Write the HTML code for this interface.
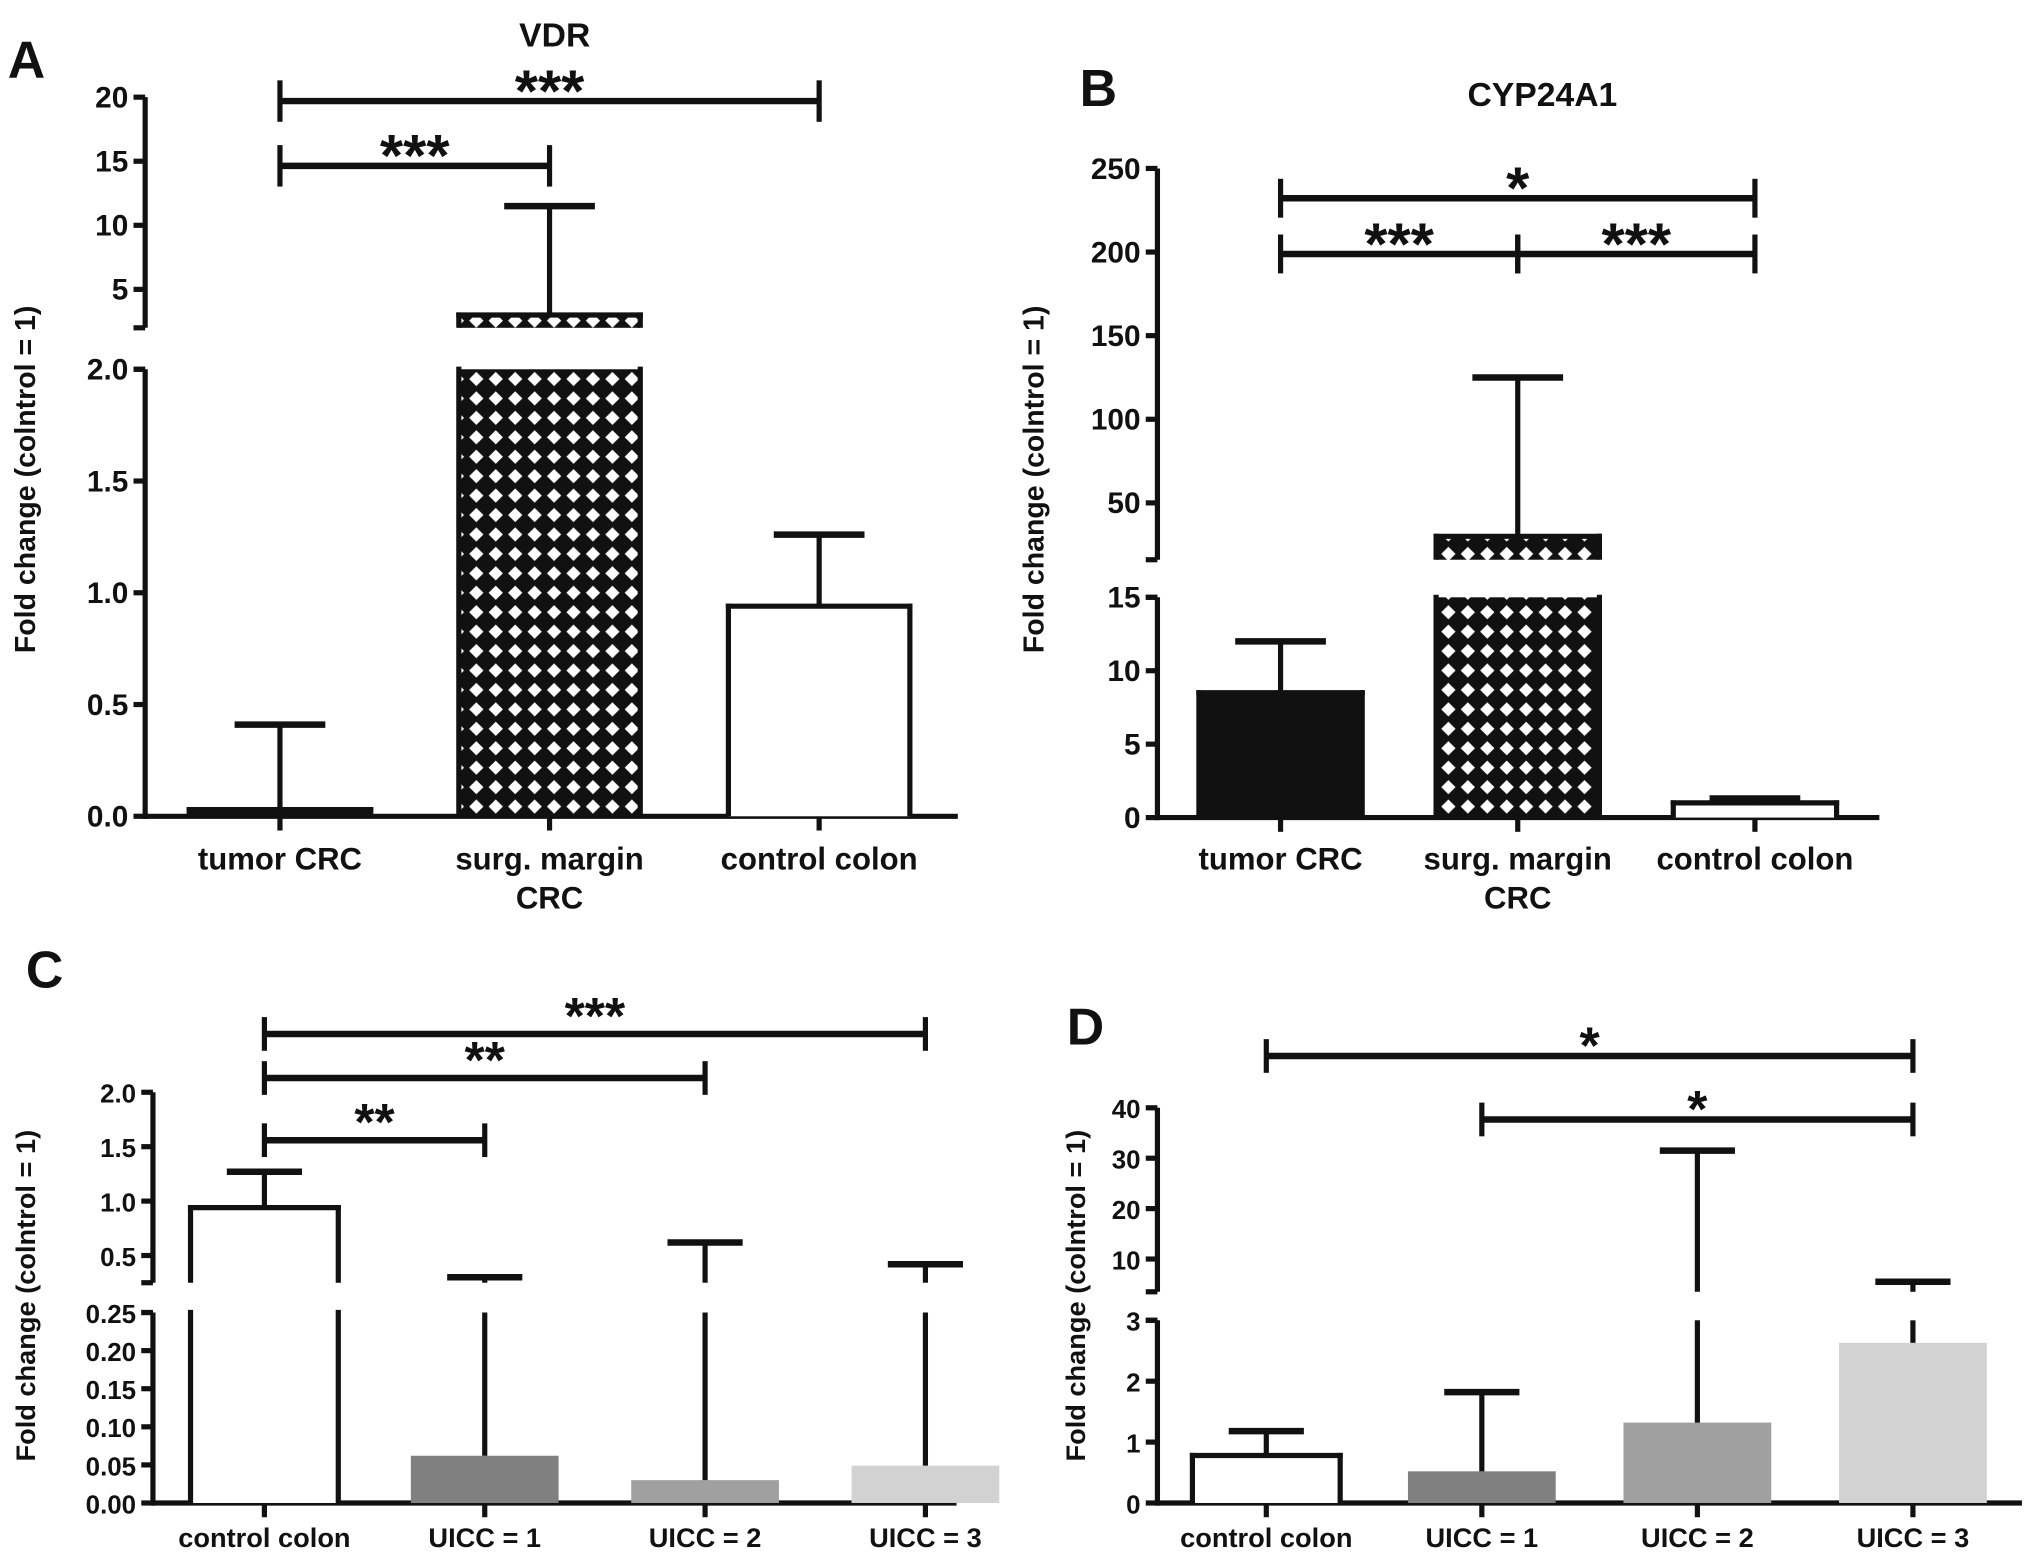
<!DOCTYPE html>
<html><head><meta charset="utf-8"><style>
html,body{margin:0;padding:0;background:#fff}
svg{display:block}
text{font-family:"Liberation Sans",Arial,sans-serif;font-weight:bold;fill:#111}
</style></head><body>
<svg id="fig" width="2031" height="1560" viewBox="0 0 1567 1204" preserveAspectRatio="none" xmlns="http://www.w3.org/2000/svg">
<defs>
<pattern id="hatch" patternUnits="userSpaceOnUse" width="15" height="15">
<rect width="15" height="15" fill="#111"/>
<polygon points="7.5,2 13,7.5 7.5,13 2,7.5" fill="#fff"/>
</pattern>
</defs>
</svg>
<script>
// ---------- data ----------
const catsA = ["tumor CRC", "surg. margin|CRC", "control colon"];
const valsA = [0.03, 3.0, 0.94];
const errA = [0.41, 11.5, 1.26];
const catsB = ["tumor CRC", "surg. margin|CRC", "control colon"];
const valsB = [8.5, 30, 1.0];
const errB = [12, 125, 1.3];
const catsC = ["control colon", "UICC = 1", "UICC = 2", "UICC = 3"];
const valsC = [0.94, 0.062, 0.03, 0.049];
const errC = [1.27, 0.30, 0.62, 0.42];
const catsD = ["control colon", "UICC = 1", "UICC = 2", "UICC = 3"];
const valsD = [0.78, 0.52, 1.32, 2.63];
const errD = [1.18, 1.82, 31.5, 5.5];
const ticksA_lo = ["0.0","0.5","1.0","1.5","2.0"], ticksA_hi = ["5","10","15","20"];
const ticksB_lo = ["0","5","10","15"], ticksB_hi = ["50","100","150","200","250"];
const ticksC_lo = ["0.00","0.05","0.10","0.15","0.20","0.25"], ticksC_hi = ["0.5","1.0","1.5","2.0"];
const ticksD_lo = ["0","1","2","3"], ticksD_hi = ["10","20","30","40"];
const sigA = [[0,2,"***"],[0,1,"***"]];
const sigB = [[0,2,"*"],[0,1,"***"],[1,2,"***"]];
const sigC = [[0,1,"**"],[0,2,"**"],[0,3,"***"]];
const sigD = [[0,3,"*"],[1,3,"*"]];

const svg = document.getElementById('fig');
const NS = "http://www.w3.org/2000/svg";
function mk(tag, attrs, parent){const e=document.createElementNS(NS,tag);for(const k in attrs)e.setAttribute(k,attrs[k]);(parent||svg).appendChild(e);return e;}
function txt(s,x,y,size,anchor,parent){const t=mk('text',{x:x,y:y,'font-size':size,'text-anchor':anchor||'middle'},parent);t.textContent=s;return t;}

function panel(cfg){
  const g = mk('g',{});
  
  
  const segs = cfg.segs;
  function yv(s,v){return s.y0 - (v - s.min)/(s.max - s.min)*(s.y0 - s.y1);}
  const lw = 4;
  segs.forEach((s,si)=>{
    const l = mk('line',{x1:cfg.ax,x2:cfg.ax,y1:s.y0+(si===0?lw/2:0),y2:s.y1,stroke:'#111','stroke-width':lw},g);
    
    
    if(si>0){ mk('line',{x1:cfg.ax-9,x2:cfg.ax,y1:s.y0,y2:s.y0,stroke:'#111','stroke-width':lw},g); }
    s.ticks.forEach(lbl=>{
      const v = parseFloat(lbl); const y = yv(s,v);
      mk('line',{x1:cfg.ax-9,x2:cfg.ax,y1:y,y2:y,stroke:'#111','stroke-width':lw},g);
      const t = txt(lbl,cfg.ax-13,y+8,cfg.fs,'end',g);
      
      
    });
    if(si===0 && segs.length>1){ mk('line',{x1:cfg.ax-9,x2:cfg.ax,y1:s.y1,y2:s.y1,stroke:'#111','stroke-width':lw},g); }
  });
  const xa = mk('line',{x1:cfg.ax-1,x2:cfg.xend,y1:segs[0].y0,y2:segs[0].y0,stroke:'#111','stroke-width':lw},g);
  
  
  cfg.cats.forEach((c,i)=>{
    const cx = cfg.cx0 + i*cfg.dx;
    mk('line',{x1:cx,x2:cx,y1:segs[0].y0,y2:segs[0].y0+11,stroke:'#111','stroke-width':lw},g);
    c.split('|').forEach((line,li)=>{
      const t = txt(line,cx,segs[0].y0+cfg.lblOff+li*30,cfg.xfs,'middle',g);
      
      
    });
    const v = cfg.vals[i], e = cfg.errs[i], fill = cfg.fills[i];
    const outline = (fill==='#fff'||fill==='url(#hatch)'||fill==='#111');
    const x0 = cx - cfg.bw/2, x1 = cx + cfg.bw/2;
    segs.forEach(s=>{
      const lo = Math.max(0,s.min), hi = Math.min(v,s.max);
      if(hi > lo){
        const yt = yv(s,hi), yb = yv(s,lo);
        const r = mk('rect',{x:x0,y:yt,width:cfg.bw,height:Math.max(0,yb-yt),fill:fill},g);
        
        
        if(outline){
          mk('line',{x1:x0,x2:x0,y1:yt-lw/2,y2:yb,stroke:'#111','stroke-width':lw},g);
          mk('line',{x1:x1,x2:x1,y1:yt-lw/2,y2:yb,stroke:'#111','stroke-width':lw},g);
          if(v<=s.max) mk('line',{x1:x0-lw/2,x2:x1+lw/2,y1:yt,y2:yt,stroke:'#111','stroke-width':lw},g);
        }
      }
      const elo = Math.max(v,s.min), ehi = Math.min(e,s.max);
      if(ehi > elo){
        const el = mk('line',{x1:cx,x2:cx,y1:yv(s,ehi),y2:yv(s,elo),stroke:'#111','stroke-width':lw},g);
        
        
      }
      if(e>=s.min && e<=s.max){
        const ye = yv(s,e);
        mk('line',{x1:cx-cfg.cap/2,x2:cx+cfg.cap/2,y1:ye,y2:ye,stroke:'#111','stroke-width':lw+1},g);
      }
    });
  });
  cfg.sig.forEach((sg,k)=>{
    const xa_ = cfg.cx0+sg[0]*cfg.dx, xb_ = cfg.cx0+sg[1]*cfg.dx, y = cfg.sigY[k];
    const bl = mk('line',{x1:xa_,x2:xb_,y1:y,y2:y,stroke:'#111','stroke-width':lw+1},g);
    
    
    mk('line',{x1:xa_,x2:xa_,y1:y-cfg.capH,y2:y+cfg.capH,stroke:'#111','stroke-width':lw},g);
    mk('line',{x1:xb_,x2:xb_,y1:y-cfg.capH,y2:y+cfg.capH,stroke:'#111','stroke-width':lw},g);
    const st = txt(sg[2],(xa_+xb_)/2,y+cfg.starOff,cfg.starFs,'middle',g);
    
    
  });
  const L = txt(cfg.letter,cfg.lx,cfg.ly,40,'start',g);
  
  
  if(cfg.title){ const T = txt(cfg.title,cfg.tx,cfg.ty,26,'middle',g);
    
     }
  const yl = txt('Fold change (colntrol = 1)',0,0,cfg.yfs,'middle',g);
  yl.setAttribute('transform','translate('+cfg.ylx+','+cfg.yly+') rotate(-90)');
  
  
}

panel({name:'panel-a',letter:'A',lx:6,ly:60,title:'VDR',tx:428,ty:36,ax:112,xend:739,
  segs:[{min:0,max:2,y0:630,y1:285,ticks:ticksA_lo},{min:2,max:20,y0:253,y1:75,ticks:ticksA_hi}],
  cats:catsA,vals:valsA,errs:errA,fills:['#111','url(#hatch)','#fff'],cx0:216,dx:208,bw:140,cap:70,
  sig:sigA,sigY:[78,128],capH:16,starOff:8,starFs:46,fs:23,xfs:24,lblOff:41,ylx:27,yly:370,yfs:22});
panel({name:'panel-b',letter:'B',lx:833,ly:82,title:'CYP24A1',tx:1190,ty:82,ax:893,xend:1450,
  segs:[{min:0,max:15,y0:631,y1:461,ticks:ticksB_lo},{min:16,max:250,y0:432,y1:130,ticks:ticksB_hi}],
  cats:catsB,vals:valsB,errs:errB,fills:['#111','url(#hatch)','#fff'],cx0:988,dx:183,bw:126,cap:70,
  sig:sigB,sigY:[153,196,196],capH:15,starOff:8,starFs:46,fs:23,xfs:24,lblOff:40,ylx:805,yly:370,yfs:22});
panel({name:'panel-c',letter:'C',lx:20,ly:762,title:null,ax:118,xend:738,
  segs:[{min:0,max:0.25,y0:1160,y1:1013,ticks:ticksC_lo},{min:0.25,max:2,y0:990,y1:843,ticks:ticksC_hi}],
  cats:catsC,vals:valsC,errs:errC,fills:['#fff','#808080','#a0a0a0','#d2d2d2'],cx0:204,dx:170,bw:114,cap:58,
  sig:sigC,sigY:[880,832,798],capH:13,starOff:0,starFs:40,fs:20,xfs:21,lblOff:34,ylx:27,yly:1000,yfs:21});
panel({name:'panel-d',letter:'D',lx:823,ly:806,title:null,ax:893,xend:1560,
  segs:[{min:0,max:3,y0:1160,y1:1019,ticks:ticksD_lo},{min:3.5,max:40,y0:997,y1:855,ticks:ticksD_hi}],
  cats:catsD,vals:valsD,errs:errD,fills:['#fff','#808080','#a0a0a0','#d2d2d2'],cx0:977,dx:166.3,bw:114,cap:58,
  sig:sigD,sigY:[815,864],capH:13,starOff:6,starFs:40,fs:20,xfs:21,lblOff:34,ylx:837,yly:1000,yfs:21});
</script>
</body></html>
